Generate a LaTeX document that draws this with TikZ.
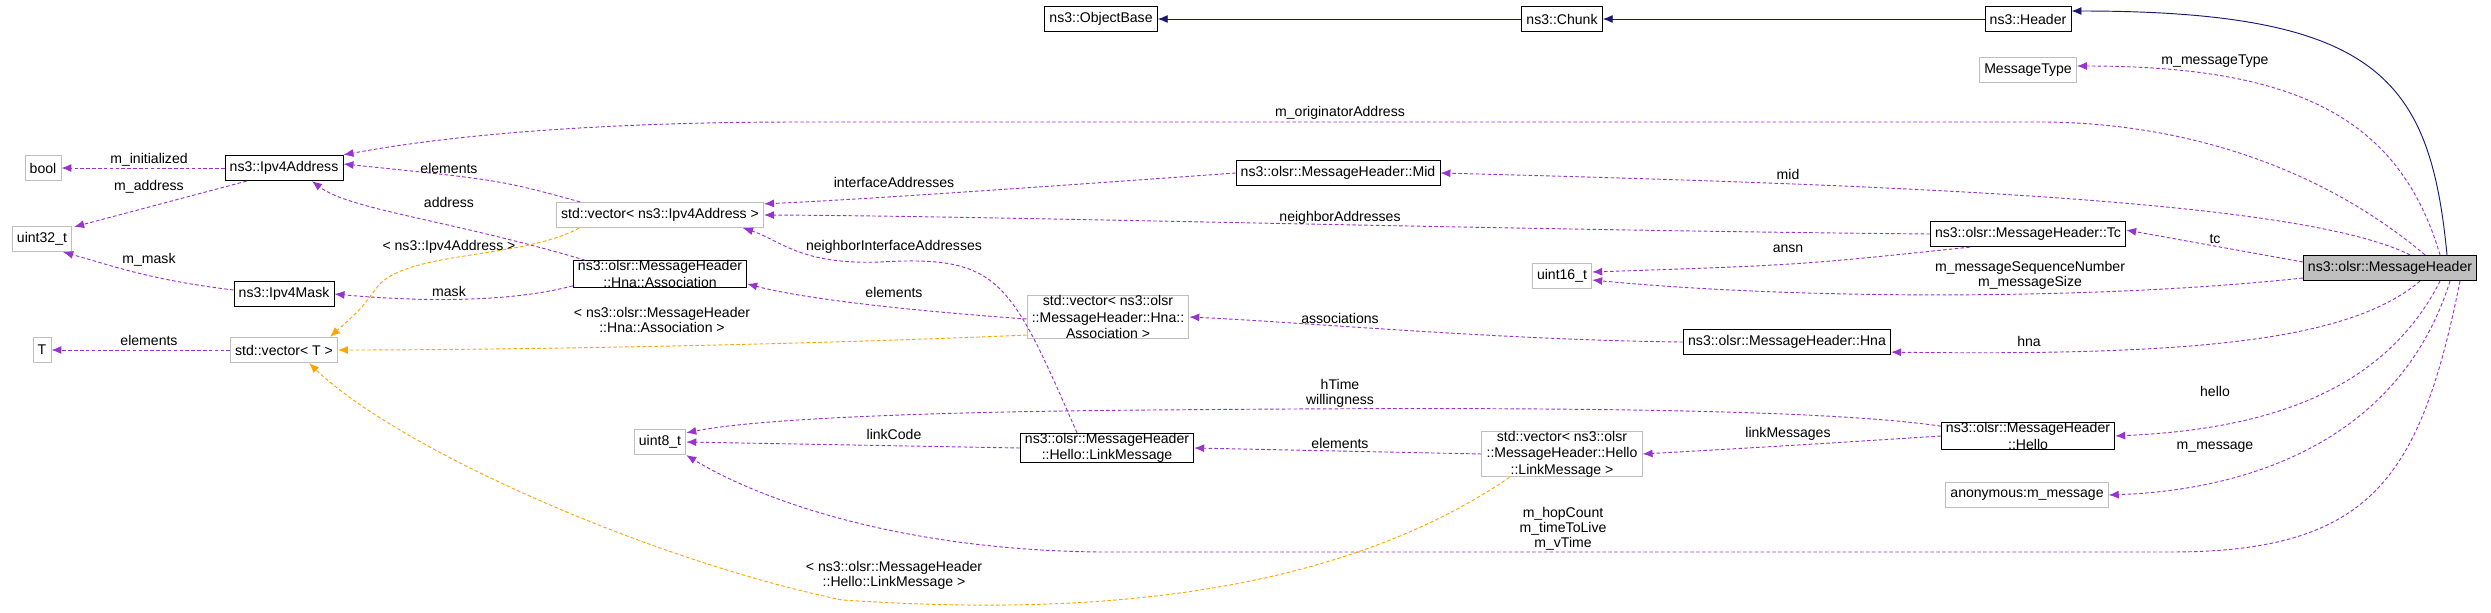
\documentclass[tikz,border=0pt]{standalone}
\usepackage{fontspec}
\setmainfont{Liberation Sans}
\usetikzlibrary{positioning,calc,arrows.meta}
\definecolor{mem}{HTML}{9A32CD}
\definecolor{tpl}{HTML}{FFA500}
\definecolor{inh}{HTML}{191970}
\tikzset{
  cls/.style={draw=black,thick,fill=white,inner xsep=4pt,inner ysep=0pt,minimum height=7.6mm,align=center,font=\fontsize{12}{14}\selectfont},
  ext/.style={cls,draw=gray!50},
  cur/.style={cls,fill=gray!50},
  usage/.style={mem,densely dashed,thick,-{Latex[length=3mm,width=2.4mm]}},
  tmpl/.style={tpl,densely dashed,thick,-{Latex[length=3mm,width=2.4mm]}},
  base/.style={inh,thick,-{Latex[length=3mm,width=2.4mm]}},
  lbl/.style={font=\fontsize{12}{13}\selectfont,align=center,inner sep=0pt}
}
\begin{document}
\begin{tikzpicture}[x=0.3mm,y=-0.3mm]
        \useasboundingbox (0,0) rectangle (2491,612);
        % Classes
        \node[cls] (objbase) at (1101,19) {ns3::ObjectBase};
        \node[cls] (chunk) at (1562,19) {ns3::Chunk};
        \node[cls] (header) at (2028,19) {ns3::Header};
        \node[ext] (msgtype) at (2028,70) {MessageType};
        \node[cur] (mh) at (2390,268) {ns3::olsr::MessageHeader};
        \node[cls] (mid) at (1338,173) {ns3::olsr::MessageHeader::Mid};
        \node[cls] (tc) at (2028,234) {ns3::olsr::MessageHeader::Tc};
        \node[ext] (u16) at (1562,276) {uint16\_t};
        \node[cls] (hna) at (1787,342) {ns3::olsr::MessageHeader::Hna};
        \node[cls] (hello) at (2028,436) {ns3::olsr::MessageHeader\\::Hello};
        \node[ext] (anon) at (2027,495) {anonymous:m\_message};
        \node[ext] (veclm) at (1562,454) {std::vector< ns3::olsr\\::MessageHeader::Hello\\::LinkMessage >};
        \node[cls] (lm) at (1107,448) {ns3::olsr::MessageHeader\\::Hello::LinkMessage};
        \node[ext] (u8) at (660,442) {uint8\_t};
        \node[ext] (vecha) at (1108,317) {std::vector< ns3::olsr\\::MessageHeader::Hna::\\Association >};
        \node[cls] (assoc) at (660,274) {ns3::olsr::MessageHeader\\::Hna::Association};
        \node[ext] (vecip) at (660,215) {std::vector< ns3::Ipv4Address >};
        \node[cls] (ipaddr) at (284,168) {ns3::Ipv4Address};
        \node[ext] (bool) at (43,168) {bool};
        \node[ext] (u32) at (42,239) {uint32\_t};
        \node[cls] (ipmask) at (284,294) {ns3::Ipv4Mask};
        \node[ext] (T) at (42,350) {T};
        \node[ext] (vect) at (284,350) {std::vector< T >};
        % Inheritance
        \draw[base] (chunk) -- (objbase);
        \draw[base] (header) -- (chunk);
        \draw[base] ($(mh.north)+(57,0)$) .. controls (2430,80) and (2380,11) .. ($(header.east)+(0,-8)$);
        % Members of the message header
        \draw[usage] ($(mh.north)+(50,0)$) .. controls (2400,120) and (2300,66) .. ($(msgtype.east)+(0,-4)$);
        \draw[usage] ($(mh.north)+(35,0)$) .. controls (2300,150) and (2150,122) .. (2040,122) -- (800,122) .. controls (600,122) and (450,135) .. (ipaddr.north east);
        \draw[usage] ($(mh.north)+(20,0)$) .. controls (2300,200) and (1900,185) .. (mid.east);
        \draw[usage] ($(mh.west)+(0,-6)$) -- ($(tc.east)+(0,-4)$);
        \draw[usage] ($(mh.west)+(0,10)$) .. controls (2100,300) and (1800,300) .. ($(u16.east)+(0,4)$);
        \draw[usage] ($(mh.south)+(30,0)$) .. controls (2350,340) and (2200,356) .. ($(hna.south east)+(0,-3)$);
        \draw[usage] ($(mh.south)+(50,0)$) .. controls (2380,400) and (2250,430) .. (hello.east);
        \draw[usage] ($(mh.south)+(60,0)$) .. controls (2400,440) and (2250,490) .. (anon.east);
        \draw[usage] ($(mh.south)+(70,0)$) .. controls (2420,480) and (2370,552) .. (2170,552) -- (1100,552) .. controls (900,550) and (760,500) .. (u8.south east);
        % Members of the other headers
        \draw[usage] (tc.west) .. controls (1500,230) and (1000,216) .. (vecip.east);
        \draw[usage] ($(tc.south west)+(40,0)$) .. controls (1800,265) .. ($(u16.east)+(0,-4)$);
        \draw[usage] (mid.west) .. controls (1000,190) and (850,200) .. ($(vecip.north east)+(0,2)$);
        \draw[usage] (hna.west) .. controls (1500,340) and (1300,322) .. (vecha.east);
        \draw[usage] ($(hello.north west)+(0,4)$) .. controls (1800,405) and (1400,408) .. (1150,410) .. controls (900,412) and (750,420) .. ($(u8.north east)+(0,4)$);
        \draw[usage] (hello.west) .. controls (1800,445) .. (veclm.east);
        \draw[usage] (veclm.west) -- (lm.east);
        \draw[usage] (lm.west) -- (u8.east);
        \draw[usage] ($(lm.north)+(-30,0)$) .. controls (1010,280) and (1000,255) .. (880,262) .. controls (800,265) and (780,240) .. ($(vecip.south)+(83,0)$);
        \draw[usage] ($(vecha.west)+(0,2)$) .. controls (900,310) and (800,298) .. ($(assoc.south east)+(0,-4)$);
        \draw[usage] ($(vecip.north)+(-80,0)$) .. controls (500,180) .. ($(ipaddr.east)+(0,-4)$);
        \draw[usage] ($(assoc.north)+(-75,0)$) .. controls (450,220) and (350,210) .. ($(ipaddr.south)+(28,0)$);
        \draw[usage] ($(assoc.south west)+(0,-2)$) .. controls (500,305) and (400,300) .. (ipmask.east);
        \draw[usage] (ipaddr.west) -- (bool.east);
        \draw[usage] ($(ipaddr.south west)+(22,0)$) -- ($(u32.north east)+(2,1)$);
        \draw[usage] ($(ipmask.west)+(0,-4)$) .. controls (150,280) and (110,265) .. ($(u32.south east)+(-9,0)$);
        \draw[usage] (vect.west) -- (T.east);
        % Template instances
        \draw[tmpl] ($(vecip.south)+(-81,0)$) .. controls (520,260) and (400,250) .. (375,290) .. controls (360,310) .. ($(vect.north)+(46,0)$);
        \draw[tmpl] ($(vecha.west)+(0,18)$) .. controls (800,345) and (500,350) .. (vect.east);
        \draw[tmpl] ($(veclm.south west)+(28,0)$) .. controls (1300,620) and (1000,610) .. (842,600) .. controls (650,560) and (400,450) .. ($(vect.south)+(25,0)$);
        % Labels
        \node[lbl] (lmsgtype) at (2215,61) {m\_messageType};
        \node[lbl] (lorig) at (1340,113) {m\_originatorAddress};
        \node[lbl] (lmid) at (1788,174) {mid};
        \node[lbl] (lnbr) at (1340,218) {neighborAddresses};
        \node[lbl] (ltc) at (2215,239) {tc};
        \node[lbl] (lansn) at (1788,249) {ansn};
        \node[lbl] (lseq) at (2030,275) {m\_messageSequenceNumber\\m\_messageSize};
        \node[lbl] (lassoc) at (1340,318) {associations};
        \node[lbl] (lhna) at (2029,341) {hna};
        \node[lbl] (lhtime) at (1340,393) {hTime\\willingness};
        \node[lbl] (lhello) at (2215,391) {hello};
        \node[lbl] (llinkmsg) at (1788,434) {linkMessages};
        \node[lbl] (lelemlm) at (1340,443) {elements};
        \node[lbl] (lmmsg) at (2215,447) {m\_message};
        \node[lbl] (lhop) at (1563,529) {m\_hopCount\\m\_timeToLive\\m\_vTime};
        \node[lbl] (linit) at (149,160) {m\_initialized};
        \node[lbl] (laddr) at (149,187) {m\_address};
        \node[lbl] (lmask) at (149,260) {m\_mask};
        \node[lbl] (lelemt) at (149,340) {elements};
        \node[lbl] (lelemip) at (449,168) {elements};
        \node[lbl] (laddress) at (449,202) {address};
        \node[lbl] (ltplip) at (449,247) {< ns3::Ipv4Address >};
        \node[lbl] (lmaskm) at (449,291) {mask};
        \node[lbl] (liface) at (894,182) {interfaceAddresses};
        \node[lbl] (lnbriface) at (894,247) {neighborInterfaceAddresses};
        \node[lbl] (lelemha) at (894,292) {elements};
        \node[lbl] (ltplha) at (662,320) {< ns3::olsr::MessageHeader\\::Hna::Association >};
        \node[lbl] (llinkcode) at (894,434) {linkCode};
        \node[lbl] (ltpllm) at (894,575) {< ns3::olsr::MessageHeader\\::Hello::LinkMessage >};
\end{tikzpicture}
\end{document}
